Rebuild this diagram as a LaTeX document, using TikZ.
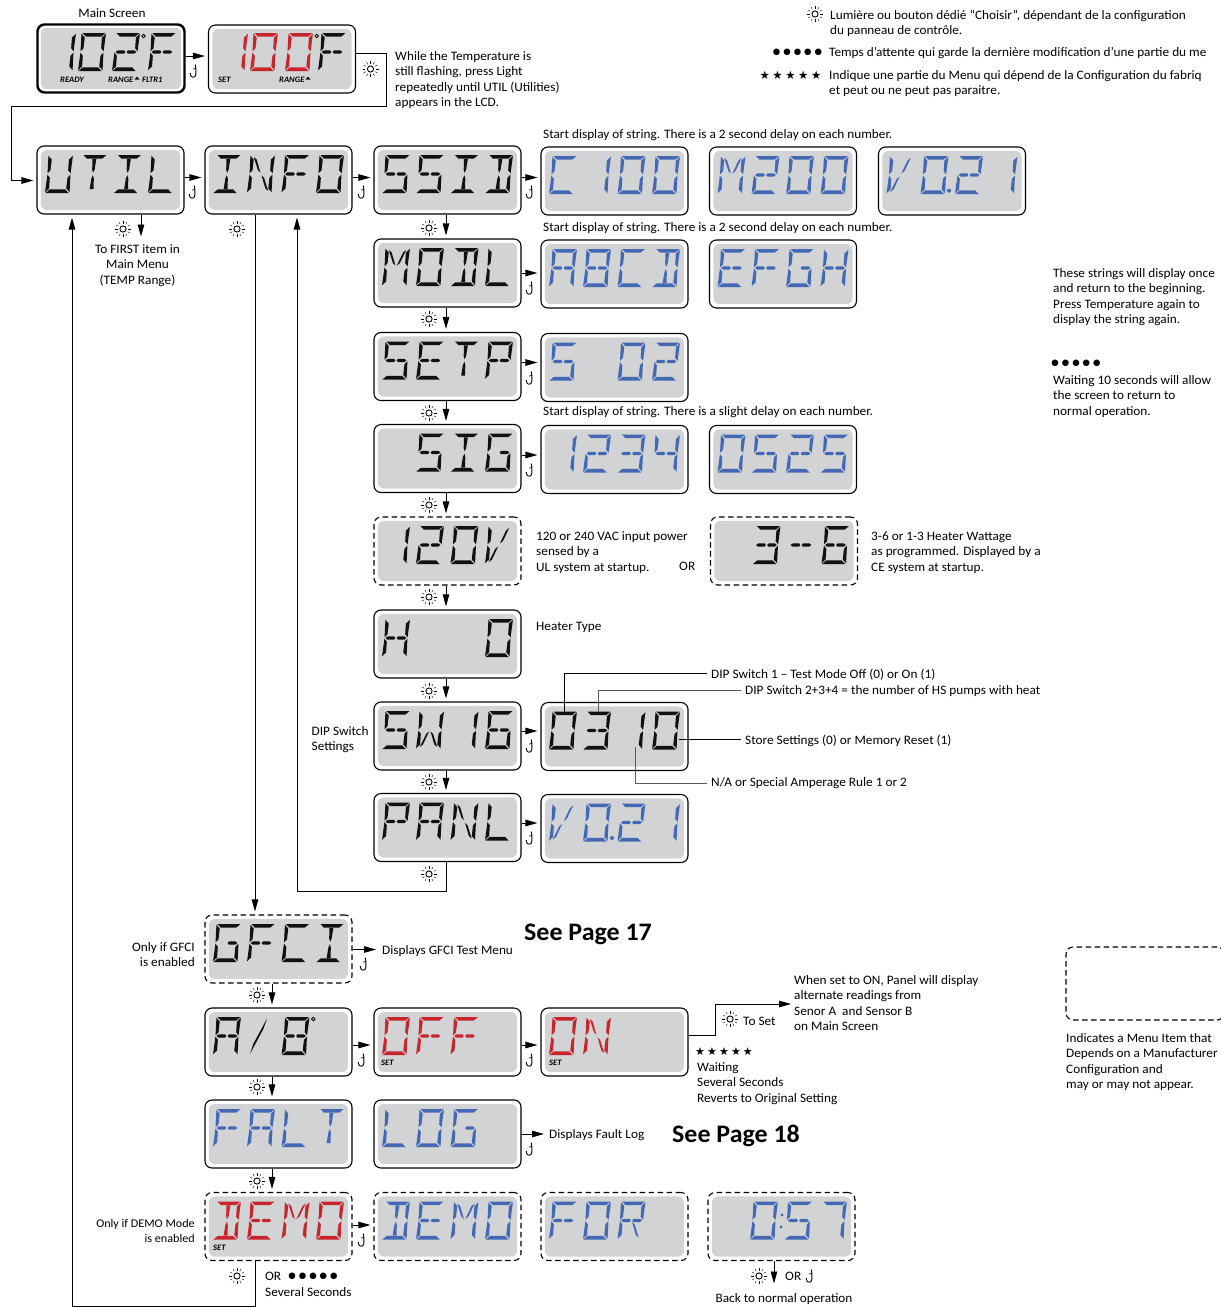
\documentclass[tikz,border=0pt]{standalone}
\usepackage{fontspec}
\setmainfont[FakeStretch=1.03]{Carlito}
\newfontfamily\djv{DejaVu Sans}
\usetikzlibrary{arrows.meta,calc}
\definecolor{lcdgray}{HTML}{D1D3D4}
\definecolor{lcdred}{HTML}{C9252C}
\definecolor{lcdblue}{HTML}{4468B4}
\definecolor{lcdblack}{HTML}{111111}
\makeatletter
\newcommand\defseg[2]{\expandafter\def\csname sg@#1\endcsname{\fill #2;}}
\newcommand\defgl[2]{\expandafter\def\csname gl@#1\endcsname{#2}}
\newcommand\segrun[1]{\csname sg@#1\endcsname}
\newcommand\glyph[4]{%
  \begin{scope}[shift={(#2+3.5,#3)},x={(24.5pt,0pt)},y={(-3.5pt,-38pt)},fill=#4]
    \edef\curgl{\csname gl@#1\endcsname}%
    \foreach \sgn in \curgl {\segrun{\sgn}}
  \end{scope}}
\makeatother
\defseg{a}{(0.04,0)--(0.98,0)--(0.82,0.095)--(0.19,0.095)--cycle}
\defseg{d}{(0.02,1)--(0.96,1)--(0.81,0.905)--(0.18,0.905)--cycle}
\defseg{f}{(0.0,0.02)--(0.15,0.12)--(0.14,0.40)--(0.03,0.485)--cycle}
\defseg{b}{(1.0,0.02)--(0.85,0.12)--(0.86,0.40)--(0.97,0.485)--cycle}
\defseg{e}{(0.03,0.515)--(0.14,0.60)--(0.15,0.88)--(0.0,0.98)--cycle}
\defseg{c}{(0.97,0.515)--(0.86,0.60)--(0.85,0.88)--(1.0,0.98)--cycle}
\defseg{g}{(0.08,0.50)--(0.16,0.455)--(0.42,0.455)--(0.47,0.50)--(0.42,0.545)--(0.16,0.545)--cycle}
\defseg{h}{(0.53,0.50)--(0.58,0.455)--(0.84,0.455)--(0.92,0.50)--(0.84,0.545)--(0.58,0.545)--cycle}
\defseg{i}{(0.42,0.10)--(0.58,0.10)--(0.55,0.38)--(0.5,0.47)--(0.45,0.38)--cycle}
\defseg{j}{(0.5,0.53)--(0.55,0.62)--(0.58,0.90)--(0.42,0.90)--(0.45,0.62)--cycle}
\defseg{k}{(0.14,0.05)--(0.27,0.12)--(0.47,0.46)--(0.36,0.40)--cycle}
\defseg{l}{(0.86,0.05)--(0.73,0.12)--(0.53,0.46)--(0.64,0.40)--cycle}
\defseg{m}{(0.14,0.95)--(0.27,0.88)--(0.47,0.54)--(0.36,0.60)--cycle}
\defseg{n}{(0.86,0.95)--(0.73,0.88)--(0.53,0.54)--(0.64,0.60)--cycle}
\defseg{s}{(0.68,0.04)--(0.58,0.30)--(0.12,0.97)--(0.22,0.70)--cycle}
\defgl{x}{}
\defgl{A}{a,b,c,e,f,g,h}
\defgl{B}{a,b,c,d,e,f,g,h}
\defgl{C}{a,f,e,d}
\defgl{D}{a,b,c,d,i,j}
\defgl{E}{a,f,e,d,g,h}
\defgl{F}{a,f,e,g,h}
\defgl{G}{a,f,e,d,c,h}
\defgl{H}{f,e,b,c,g,h}
\defgl{I}{a,i,j,d}
\defgl{L}{f,e,d}
\defgl{M}{f,e,k,l,b,c}
\defgl{N}{f,e,k,n,c,b}
\defgl{O}{a,b,c,d,e,f}
\defgl{P}{a,b,f,e,g,h}
\defgl{R}{a,b,f,e,g,h,n}
\defgl{S}{a,f,g,h,c,d}
\defgl{T}{a,i,j}
\defgl{U}{f,e,d,c,b}
\defgl{V}{f,e,m,l}
\defgl{W}{f,e,m,n,c,b}
\defgl{K}{s}
\defgl{-}{g,h}
\defgl{0}{a,b,c,d,e,f}
\defgl{1}{b,c}
\defgl{2}{a,b,g,h,e,d}
\defgl{3}{a,b,c,d,g,h}
\defgl{4}{f,g,h,b,c}
\defgl{5}{a,f,g,h,c,d}
\defgl{6}{a,f,e,d,c,g,h}
\defgl{7}{a,b,c}
\newcommand\lcd[6][]{%
  \node[lcdshape,#1] (#2) at (#3+73.5,#4+34) {};
  \fill[lcdgray,rounded corners=6pt] ([shift={(4.5,4.5)}]#2.north west) rectangle ([shift={(-4.5,-4.5)}]#2.south east);
  \foreach \chr [count=\ci] in {#6} {%
    \pgfmathsetmacro\cox{#3+ifthenelse(\ci==1,8,ifthenelse(\ci==2,42,ifthenelse(\ci==3,76.5,111)))}%
    \glyph{\chr}{\cox}{#4+9}{#5}%
  }}
\newcommand\sunicon[2]{%
  \begin{scope}[shift={(#1,#2)}]
    \draw[line width=0.9pt] (0,0) circle (3.1pt);
    \foreach \ang in {0,30,...,330} \draw[line width=0.4pt] (\ang:5.4pt) -- (\ang:8pt);
  \end{scope}}
\newcommand\hookicon[2]{%
  \begin{scope}[shift={(#1,#2)}]
    \draw[line width=0.9pt] (1.2,-6.5) -- (1.9,-2.5) -- (1.9,3) .. controls (1.9,7.3) and (-3.6,7.3) .. (-3.6,3.2) -- (-3.6,2.2);
    \draw[line width=0.7pt] (-0.8,-2) -- (1.9,-2.5);
  \end{scope}}
\newcommand\tx[5][]{\node[txt,#1] (#2) at (#3,#4-4.5) {\rule{0pt}{8.5pt}#5};}
\newcommand\harrow[3]{%
  \path ([yshift=#3pt]#1.east) coordinate (tmpa);
  \draw[conn] (tmpa) -- (tmpa -| #2.west);}
\newcommand\varrow[3]{%
  \path ([xshift=#3pt]#1.south) coordinate (tmpa);
  \draw[conn] (tmpa) -- (tmpa |- #2.north);}
\newcommand\fivedots{{\djv\fontsize{8.5}{9}\selectfont ●\hspace{3pt}●\hspace{3pt}●\hspace{3pt}●\hspace{3pt}●}}
\newcommand\fivestars{{\djv\fontsize{11.5}{12}\selectfont ★\hspace{2.6pt}★\hspace{2.6pt}★\hspace{2.6pt}★\hspace{2.6pt}★}}
\newcommand\fivestarsb{{\djv\fontsize{11}{12}\selectfont ★\hspace{2.1pt}★\hspace{2.1pt}★\hspace{2.1pt}★\hspace{2.1pt}★}}
\tikzset{
  lcdshape/.style={draw=black,fill=white,line width=1.1pt,rounded corners=7pt,minimum width=147pt,minimum height=68pt,inner sep=0pt},
  thickbox/.style={line width=2.4pt},
  dashbox/.style={dash pattern=on 5.5pt off 3.5pt},
  conn/.style={draw=black,line width=0.9pt,-{Triangle[length=12pt,width=6.5pt]},shorten >=3pt},
  callout/.style={draw=black,line width=0.8pt,shorten <=4.5pt},
  txt/.style={anchor=north west,inner sep=0pt,align=left,font=\fontsize{12.9}{15.3}\selectfont},
  symbolrow/.style={anchor=center,inner sep=0pt},
  readout/.style={anchor=west,inner sep=0pt,font=\fontsize{8.3}{9}\selectfont\bfseries\itshape},
  seepage/.style={anchor=west,inner sep=0pt,font=\fontsize{25.2}{25}\selectfont\bfseries},
}
\begin{document}
\begin{tikzpicture}[x=1pt,y=-1pt]
\useasboundingbox (0,0) rectangle (1221,1307);
% boxes
\lcd[thickbox]{mainb}{37.5}{24.5}{lcdblack}{x}
\glyph{1}{48}{33}{lcdblack}\glyph{0}{78}{33}{lcdblack}\glyph{2}{112}{33}{lcdblack}\glyph{F}{148}{33}{lcdblack}
\draw[lcdblack,line width=0.9pt] (143.5,36) circle (1.8pt);
\lcd{setb}{208.5}{25}{lcdred}{x}
\glyph{1}{220}{33}{lcdred}\glyph{0}{250}{33}{lcdred}\glyph{0}{285}{33}{lcdred}\glyph{F}{318}{33}{lcdblack}
\draw[lcdblack,line width=0.9pt] (316.7,36) circle (1.8pt);
\node[readout] (rdya) at (60,80) {READY};
\node[readout] (rnga) at (108,80) {RANGE};
\fill[lcdblack] (134.5,79.5) -- (139.5,79.5) -- (137,76.5) -- cycle;
\node[readout] (ftra) at (142,80) {FLTR1};
\node[readout] (seta) at (218,80) {SET};
\node[readout] (rngb) at (279,80) {RANGE};
\fill[lcdblack] (305.5,79.5) -- (310.5,79.5) -- (308,76.5) -- cycle;

\lcd{util}{37}{146}{lcdblack}{U,T,I,L}
\lcd{info}{205}{146}{lcdblack}{I,N,F,O}
\lcd{ssid}{374}{146}{lcdblack}{S,S,I,D}
\lcd{cstr}{541}{147}{lcdblue}{C,1,0,0}
\lcd{mstr}{709.5}{147}{lcdblue}{M,2,0,0}
\lcd{vstr}{878.5}{147}{lcdblue}{V,0,2,1}
\fill[lcdblue] (949,190.7) circle (2pt);
\lcd{modl}{374}{239}{lcdblack}{M,O,D,L}
\lcd{abcd}{541}{240}{lcdblue}{A,B,C,D}
\lcd{efgh}{709.5}{240}{lcdblue}{E,F,G,H}
\lcd{setp}{374}{332.5}{lcdblack}{S,E,T,P}
\lcd{sstr}{541}{333.5}{lcdblue}{S,x,0,2}
\lcd{sigb}{374}{424.5}{lcdblack}{x,S,I,G}
\lcd{numa}{541}{425.5}{lcdblue}{1,2,3,4}
\lcd{numb}{709.5}{425.5}{lcdblue}{0,5,2,5}
\lcd[dashbox]{volt}{374}{517}{lcdblack}{1,2,0,V}
\lcd[dashbox]{watt}{710.5}{517}{lcdblack}{x,3,-,6}
\lcd{htyp}{374}{610}{lcdblack}{H,x,x,0}
\lcd{swit}{374}{702}{lcdblack}{S,W,1,6}
\lcd{dips}{541}{702.5}{lcdblack}{0,3,1,0}
\lcd{panl}{374}{793.5}{lcdblack}{P,A,N,L}
\lcd{pver}{541}{794.5}{lcdblue}{V,0,2,1}
\fill[lcdblue] (612,838) circle (2pt);
\lcd[dashbox]{gfci}{205}{915}{lcdblack}{G,F,C,I}
\lcd{abpr}{205}{1008}{lcdblack}{A,K,B,x}
\draw[lcdblack,line width=0.9pt] (313.3,1019) circle (1.8pt);
\lcd{offv}{374}{1008}{lcdred}{O,F,F,x}
\lcd{onvl}{541}{1008}{lcdred}{O,N,x,x}
\lcd{falt}{205}{1100}{lcdblue}{F,A,L,T}
\lcd{logv}{374}{1100}{lcdblue}{L,O,G,x}
\lcd[dashbox]{demo}{205}{1192.5}{lcdred}{D,E,M,O}
\lcd[dashbox]{demb}{374}{1192.5}{lcdblue}{D,E,M,O}
\lcd[dashbox]{forv}{541}{1192.5}{lcdblue}{F,O,R,x}
\lcd[dashbox]{timv}{708}{1192.5}{lcdblue}{x,0,5,7}
\fill[lcdblue] (782,1215) circle (1.7pt) (781,1227) circle (1.7pt);
\node[readout] (setc) at (381,1063) {SET};
\node[readout] (setd) at (549,1063) {SET};
\node[readout] (sete) at (213,1248) {SET};
\node[lcdshape,dashbox,minimum width=158pt,minimum height=73pt] (legd) at (1145,983.5) {};

% texts
\tx[anchor=north]{tmain}{112}{13}{Main Screen}
\tx{twhile}{395}{56}{While the Temperature is\\still flashing, press Light\\repeatedly until UTIL (Utilities)\\appears in the LCD.}
\tx{tlumi}{830}{14}{Lumière ou bouton dédié “Choisir”, dépendant de la configuration\\du panneau de contrôle.}
\tx{ttemps}{829}{51.5}{Temps d'attente qui garde la dernière modification d'une partie du me}
\tx{tindiq}{829}{74.5}{Indique une partie du Menu qui dépend de la Configuration du fabriq\\et peut ou ne peut pas paraitre.}
\node[symbolrow] (dotsa) at (797.5,52) {\fivedots};
\node[symbolrow] (starsa) at (790.5,75) {\fivestars};
\tx[anchor=north,align=center]{tfirst}{137.5}{249}{To FIRST item in\\Main Menu\\(TEMP Range)}
\tx{tstra}{543}{134}{Start display of string. There is a 2 second delay on each number.}
\tx{tstrb}{543}{227}{Start display of string. There is a 2 second delay on each number.}
\tx{tstrc}{543}{411}{Start display of string. There is a slight delay on each number.}
\tx{tthese}{1053}{273}{These strings will display once\\and return to the beginning.\\Press Temperature again to\\display the string again.}
\node[symbolrow] (dotsb) at (1076,363) {\fivedots};
\tx{twait}{1053}{380}{Waiting 10 seconds will allow\\the screen to return to\\normal operation.}
\tx{tvac}{536}{536}{120 or 240 VAC input power\\sensed by a\\UL system at startup.}
\tx{tor}{679}{566}{OR}
\tx{twatt}{871}{536}{3-6 or 1-3 Heater Wattage\\as programmed. Displayed by a\\CE system at startup.}
\tx{theat}{536}{626}{Heater Type}
\tx{tdipset}{311.5}{731}{DIP Switch\\Settings}
\tx{tdipa}{711}{673}{DIP Switch 1 – Test Mode Off (0) or On (1)}
\tx{tdipb}{745}{690}{DIP Switch 2+3+4 = the number of HS pumps with heat}
\tx{tstore}{745}{739}{Store Settings (0) or Memory Reset (1)}
\tx{tamp}{711}{782}{N/A or Special Amperage Rule 1 or 2}
\tx[anchor=north east,align=right]{tgfci}{195}{947}{Only if GFCI\\is enabled}
\tx{tgfm}{382}{950}{Displays GFCI Test Menu}
\node[seepage] (tseea) at (524,934.5) {See Page 17};
\node[seepage] (tseeb) at (672,1135.5) {See Page 18};
\tx{twhen}{794}{980}{When set to ON, Panel will display\\alternate readings from\\Senor A\ \ and Sensor B\\on Main Screen}
\tx{ttoset}{743}{1021}{To Set}
\node[symbolrow] (starsb) at (724,1052) {\fivestarsb};
\tx{trev}{697}{1067}{Waiting\\Several Seconds\\Reverts to Original Setting}
\tx{tflog}{549}{1134}{Displays Fault Log}
\tx[anchor=north east,align=right,font=\fontsize{11.8}{15.3}\selectfont]{tdemo}{195}{1223}{Only if DEMO Mode\\is enabled}
\tx{torb}{265}{1276}{OR}
\node[symbolrow] (dotsc) at (313,1276) {\fivedots};
\tx{tsev}{265}{1292}{Several Seconds}
\tx{torc}{785}{1276}{OR}
\tx[anchor=north]{tback}{784}{1298}{Back to normal operation}
\tx{tleg}{1066}{1038}{Indicates a Menu Item that\\Depends on a Manufacturer\\Configuration and\\may or may not appear.}

% horizontal connectors
\harrow{mainb}{setb}{2.5}
\harrow{util}{info}{2.5}
\harrow{info}{ssid}{2.5}
\harrow{ssid}{cstr}{2.5}
\harrow{modl}{abcd}{0}
\harrow{setp}{sstr}{4}
\harrow{sigb}{numa}{3.5}
\harrow{swit}{dips}{5}
\harrow{panl}{pver}{4.5}
\harrow{abpr}{offv}{-3}
\harrow{offv}{onvl}{-3}
\harrow{demo}{demb}{1.5}
\path ([yshift=-0.5pt]gfci.east) coordinate (ga);
\draw[conn,shorten >=6pt] (ga) -- (ga -| tgfm.west);
\path (logv.east) coordinate (la);
\draw[conn,shorten >=5pt] (la) -- (la -| tflog.west);
% vertical connectors
\varrow{ssid}{modl}{-1.5}
\varrow{modl}{setp}{-1.5}
\varrow{setp}{sigb}{-1.5}
\varrow{sigb}{volt}{-1.5}
\varrow{volt}{htyp}{-1.5}
\varrow{htyp}{swit}{-1.5}
\varrow{swit}{panl}{-1.5}
\varrow{gfci}{abpr}{-6.5}
\varrow{abpr}{falt}{-6.5}
\varrow{falt}{demo}{-6.5}
\varrow{info}{gfci}{-23.5}
% routed connectors
\coordinate (wpa) at (386,106);
\coordinate (wpb) at (11,106);
\draw[conn] ([yshift=5.5pt]setb.east) -| (wpa) -- (wpb) |- ([yshift=-0.5pt]util.west);
\path ([xshift=30.5pt]util.south) coordinate (ua);
\draw[conn,shorten >=8pt] (ua) -- (ua |- tfirst.north);
\coordinate (wpc) at (297,891);
\draw[conn] ([xshift=-1.5pt]panl.south) |- (wpc) -- (wpc |- info.south);
\coordinate (wpd) at (72,1306.3);
\draw[conn] ([xshift=-23.5pt]demo.south) |- (wpd) -- (wpd |- util.south);
\coordinate (wpe) at (715,1004);
\path ([yshift=6.5pt]onvl.east) coordinate (oa);
\draw[conn] (oa) -| (wpe) -- (wpe -| twhen.west);
\path ([xshift=-7.5pt]timv.south) coordinate (ta);
\draw[conn,shorten >=10pt] (ta) -- (ta |- tback.north);
% callouts
\coordinate (cba) at (564.7,712);
\coordinate (cbb) at (598,712);
\coordinate (cbc) at (679,738.5);
\coordinate (cbd) at (635,747);
\draw[callout] ([yshift=1pt]tdipa.west) -| (cba);
\draw[callout,gray!70!black] ([yshift=0.5pt]tdipb.west) -| (cbb);
\draw[callout] ([yshift=1.5pt]tstore.west) -- ([yshift=1.5pt]tstore.west -| cbc);
\draw[callout,gray!70!black] (tamp.west) -| (cbd);
% icons
\sunicon{123}{229}\sunicon{237}{229}\sunicon{370.5}{69}\sunicon{815}{14}
\foreach \sy in {228,319,413,505,597,691,782,874} {\sunicon{429}{\sy}}
\sunicon{257}{995}\sunicon{257}{1087}\sunicon{257}{1181}\sunicon{237}{1276}
\sunicon{730}{1019}\sunicon{759}{1276}
\hookicon{194}{71}\hookicon{193}{192}\hookicon{362}{192}\hookicon{530}{192}
\hookicon{530}{288}\hookicon{530}{378}\hookicon{530}{470}\hookicon{530}{746}\hookicon{530}{838}
\hookicon{364}{964}\hookicon{362}{1060}\hookicon{530}{1060}\hookicon{530}{1149}\hookicon{362}{1240}\hookicon{810}{1276}
\end{tikzpicture}
\end{document}
